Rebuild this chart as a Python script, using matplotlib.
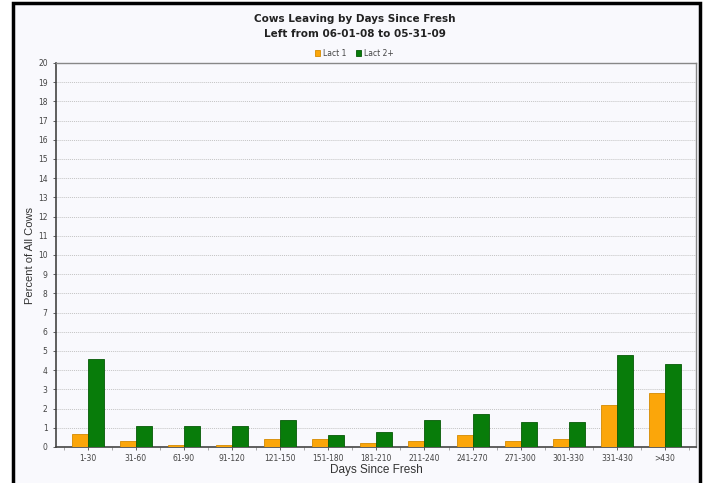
import numpy as np
import matplotlib.pyplot as plt
from matplotlib.patches import Rectangle

categories = ["1-30", "31-60", "61-90", "91-120", "121-150", "151-180", "181-210",
              "211-240", "241-270", "271-300", "301-330", "331-430", ">430"]
lact1 = [0.7, 0.3, 0.1, 0.1, 0.4, 0.4, 0.2, 0.3, 0.6, 0.3, 0.4, 2.2, 2.8]
lact2 = [4.6, 1.1, 1.1, 1.1, 1.4, 0.6, 0.8, 1.4, 1.7, 1.3, 1.3, 4.8, 4.3]
yticks = list(range(0, 21))

bg = "#f9f9fd"
fig = plt.figure(figsize=(7.09, 4.83), dpi=100, facecolor="white")
ax = fig.add_axes([56 / 709, 36 / 483, 640 / 709, 384 / 483])
ax.set_facecolor(bg)

# outer black frame
fig.patches.append(Rectangle((13 / 709, -0.02), 687 / 709, 1.0 - 3 / 483 + 0.02,
                             transform=fig.transFigure, fill=True, facecolor=bg,
                             edgecolor="black", linewidth=2.5, zorder=-10))

x = np.arange(len(categories))
w = 0.333
ax.bar(x - w / 2, lact1, width=w, color="#fba60a", edgecolor="#d48a00",
       linewidth=0.6, label="Lact 1", zorder=3)
ax.bar(x + w / 2, lact2, width=w, color="#087c0a", edgecolor="#055a06",
       linewidth=0.6, label="Lact 2+", zorder=3)

ax.set_xlim(-0.66, len(categories) - 1 + 0.645)
ax.set_ylim(0, 20)
ax.set_yticks(yticks)
ax.set_xticks(x)
ax.set_xticklabels(categories)
ax.set_xticks(np.arange(len(categories) + 1) - 0.5, minor=True)
ax.tick_params(axis="both", labelsize=5.5, colors="#444444", length=2.5, width=0.6)
ax.tick_params(axis="x", pad=2.5)
ax.tick_params(axis="x", which="minor", length=2.5, width=0.5, colors="#888888")
ax.grid(axis="y", color="#c4c4c4", linestyle=(0, (1, 1)), linewidth=0.7, zorder=0)

for side in ["left", "bottom"]:
    ax.spines[side].set_color("#444444")
    ax.spines[side].set_linewidth(1.2)
for side in ["top", "right"]:
    ax.spines[side].set_color("#888888")
    ax.spines[side].set_linewidth(1.0)

ax.set_ylabel("Percent of All Cows", fontsize=8, family="Liberation Sans",
              color="#333333")
ax.yaxis.set_label_coords(-(56 - 30) / 640, 0.5)
ax.yaxis.label.set_va("center")
ax.set_xlabel("Days Since Fresh", fontsize=8.5, family="Liberation Sans",
              color="#333333")
ax.xaxis.set_label_coords(0.5, -(470 - 447) / 384)
ax.xaxis.label.set_va("center")

fig.text(0.5, 1 - 19 / 483, "Cows Leaving by Days Since Fresh", ha="center",
         va="center", fontsize=7.5, fontweight="bold", color="#222222")
fig.text(0.5, 1 - 34 / 483, "Left from 06-01-08 to 05-31-09", ha="center",
         va="center", fontsize=7.5, fontweight="bold", color="#222222")

fig.legend(loc="center", bbox_to_anchor=(0.5, 1 - 53 / 483), ncol=2,
           fontsize=5.5, frameon=False, handlelength=0.7, handleheight=0.7,
           handletextpad=0.4, columnspacing=1.2, labelcolor="#444444")

fig.savefig("out.png", dpi=100, facecolor="white")
